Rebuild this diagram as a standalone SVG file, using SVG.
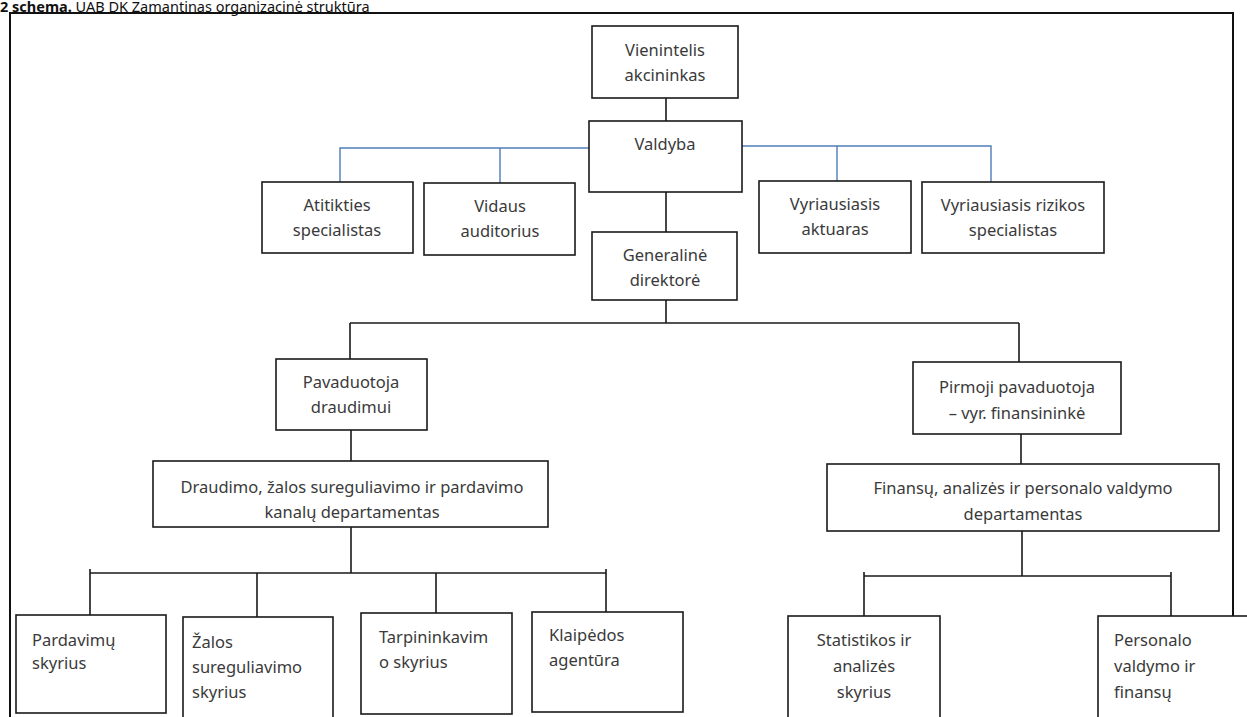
<svg xmlns="http://www.w3.org/2000/svg" width="1247" height="717" viewBox="0 0 1247 717">
<style>
.box{fill:#fff;stroke:#1a1a1a;stroke-width:1.6}
.t{font-family:"Noto Sans","Open Sans",sans-serif;font-size:16.5px;fill:#3a3a3a}
.c{text-anchor:middle}
.k{fill:none;stroke:#1a1a1a;stroke-width:1.6}
.b{fill:none;stroke:#4f7db8;stroke-width:1.4}
</style>
<rect width="1247" height="717" fill="#fff"/>
<text x="0" y="11.5" style="font-family:'Noto Sans',sans-serif;font-size:14.5px;fill:#111"><tspan font-weight="bold">2 schema.</tspan> UAB DK Zamantinas organizacinė struktūra</text>
<path d="M10,730 V13 H1233 V730" fill="none" stroke="#111" stroke-width="2"/>
<g id="connectors">
<path class="b" d="M589,148 H340 V182 M500,148 V183"/>
<path class="b" d="M742,146 H991 V182 M837,146 V181"/>
<path class="k" d="M666,98 V121 M666,192 V232 M666,300 V323 M350,323 H1019 M350,323 V359 M1019,323 V362"/>
<path class="k" d="M351,430 V461 M1021,434 V464"/>
<path class="k" d="M351,527 V573 M90,573 H606 M90,573 V615 M257,573 V617 M436,573 V613 M606,573 V612 M90,569 V577 M606,569 V577"/>
<path class="k" d="M1022,531 V576 M864,576 H1171 M864,576 V616 M1171,576 V616 M864,572 V580 M1171,572 V580"/>
</g>
<g id="n-vienintelis"><rect class="box" x="592" y="26" width="146" height="72"/><text class="t c" x="665" y="56">Vienintelis</text><text class="t c" x="665" y="81">akcininkas</text></g>
<g id="n-valdyba"><rect class="box" x="589" y="121" width="153" height="71"/><text class="t c" x="665" y="150">Valdyba</text></g>
<g id="n-atitikties"><rect class="box" x="262" y="182" width="151" height="71"/><text class="t c" x="337" y="211">Atitikties</text><text class="t c" x="337" y="236">specialistas</text></g>
<g id="n-vidaus"><rect class="box" x="424" y="183" width="151" height="72"/><text class="t c" x="500" y="212">Vidaus</text><text class="t c" x="500" y="237">auditorius</text></g>
<g id="n-aktuaras"><rect class="box" x="759" y="181" width="152" height="72"/><text class="t c" x="835" y="210">Vyriausiasis</text><text class="t c" x="835" y="235">aktuaras</text></g>
<g id="n-rizikos"><rect class="box" x="922" y="182" width="182" height="71"/><text class="t c" x="1013" y="211">Vyriausiasis rizikos</text><text class="t c" x="1013" y="236">specialistas</text></g>
<g id="n-generaline"><rect class="box" x="592" y="232" width="145" height="68"/><text class="t c" x="665" y="261">Generalinė</text><text class="t c" x="665" y="286">direktorė</text></g>
<g id="n-pavaduotoja"><rect class="box" x="276" y="359" width="151" height="71"/><text class="t c" x="351" y="388">Pavaduotoja</text><text class="t c" x="351" y="413">draudimui</text></g>
<g id="n-pirmoji"><rect class="box" x="913" y="362" width="208" height="72"/><text class="t c" x="1017" y="393">Pirmoji pavaduotoja</text><text class="t c" x="1017" y="419">– vyr. finansininkė</text></g>
<g id="n-draudimo"><rect class="box" x="153" y="461" width="395" height="66"/><text class="t c" x="352" y="493">Draudimo, žalos sureguliavimo ir pardavimo</text><text class="t c" x="352" y="518">kanalų departamentas</text></g>
<g id="n-finansu"><rect class="box" x="827" y="464" width="392" height="67"/><text class="t c" x="1023" y="494">Finansų, analizės ir personalo valdymo</text><text class="t c" x="1023" y="520">departamentas</text></g>
<g id="n-pardavimu"><rect class="box" x="16" y="615" width="150" height="98"/><text class="t" x="32" y="646">Pardavimų</text><text class="t" x="32" y="669">skyrius</text></g>
<g id="n-zalos"><rect class="box" x="183" y="617" width="150" height="110"/><text class="t" x="192" y="648">Žalos</text><text class="t" x="192" y="673">sureguliavimo</text><text class="t" x="192" y="698">skyrius</text></g>
<g id="n-tarpininkavimo"><rect class="box" x="361" y="613" width="151" height="101"/><text class="t" x="379" y="643">Tarpininkavim</text><text class="t" x="379" y="668">o skyrius</text></g>
<g id="n-klaipedos"><rect class="box" x="532" y="612" width="151" height="100"/><text class="t" x="549" y="641">Klaipėdos</text><text class="t" x="549" y="666">agentūra</text></g>
<g id="n-statistikos"><rect class="box" x="788" y="616" width="152" height="110"/><text class="t c" x="864" y="646">Statistikos ir</text><text class="t c" x="864" y="672">analizės</text><text class="t c" x="864" y="698">skyrius</text></g>
<g id="n-personalo"><rect class="box" x="1098" y="616" width="160" height="110"/><text class="t" x="1114" y="646">Personalo</text><text class="t" x="1114" y="672">valdymo ir</text><text class="t" x="1114" y="698">finansų</text></g>
</svg>
